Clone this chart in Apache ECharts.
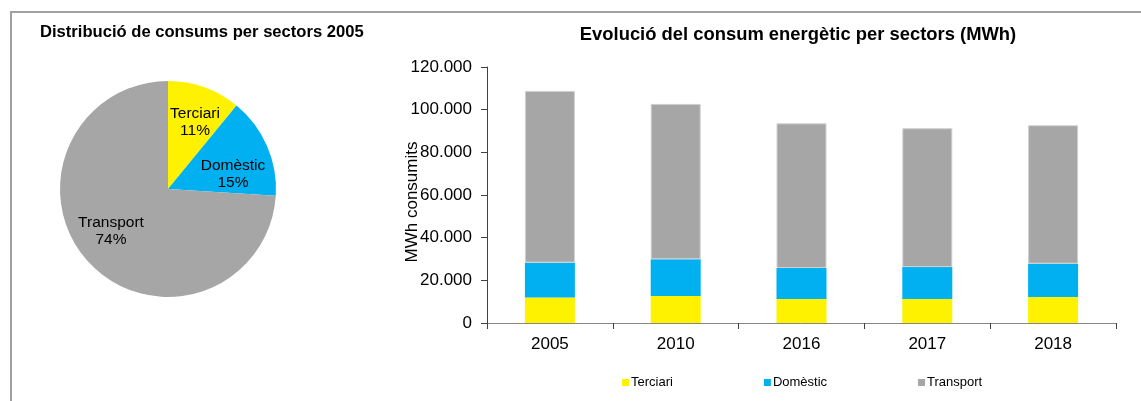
<!DOCTYPE html>
<html>
<head>
<meta charset="utf-8">
<script src="https://cdn.jsdelivr.net/npm/echarts@6/dist/echarts.min.js"></script>
<style>
  html, body { margin: 0; padding: 0; background: #fff; }
  #chart { width: 1141px; height: 401px; }
</style>
</head>
<body>
<div id="chart"></div>
<script>
const years = ['2005', '2010', '2016', '2017', '2018']
const sectors = ['Terciari', 'Domèstic', 'Transport']
const terciari = [11900, 12700, 11200, 11200, 12200]
const domestic = [16400, 17200, 14600, 15000, 15600]
const transport = [80500, 72800, 67800, 65100, 64900]
const yTicks = [0, 20000, 40000, 60000, 80000, 100000, 120000]

const colors = ['#fff200', '#00b0f0', '#a6a6a6']
const font = 'Liberation Sans, Arial, sans-serif'

// pie shows the 2005 split
const pieData = [
  { name: sectors[0], value: terciari[0] },
  { name: sectors[1], value: domestic[0] },
  { name: sectors[2], value: transport[0] }
]

// where the slice labels sit in the original
const pieLabelPos = [[195, 122], [233, 174], [111, 231]]

function fmtThousands(v) {
  return String(v).replace(/\B(?=(\d{3})+(?!\d))/g, '.')
}

const chart = echarts.init(document.getElementById('chart'))

chart.setOption({
  animation: false,
  textStyle: { fontFamily: font },
  graphic: [
    {
      type: 'polyline',
      shape: { points: [[11, 401], [11, 12], [1141, 12]] },
      style: { stroke: '#a0a0a0', lineWidth: 2, fill: null }
    }
  ],
  title: [
    {
      text: 'Distribució de consums per sectors 2005',
      left: 35,
      top: 19,
      textStyle: { fontSize: 16.6, fontWeight: 'bold', color: '#000', fontFamily: font }
    },
    {
      text: 'Evolució del consum energètic per sectors (MWh)',
      left: 793,
      textAlign: 'center',
      top: 21,
      textStyle: { fontSize: 18.4, fontWeight: 'bold', color: '#000', fontFamily: font }
    }
  ],
  legend: {
    data: sectors,
    left: 617,
    top: 371,
    itemWidth: 7,
    itemHeight: 7,
    itemGap: 91,
    icon: 'rect',
    itemStyle: { borderWidth: 0 },
    textStyle: { fontSize: 13, color: '#000', padding: [0, 0, 0, -3] },
    selectedMode: false
  },
  grid: {
    left: 487,
    right: 25,
    top: 67,
    bottom: 78
  },
  xAxis: {
    type: 'category',
    data: years,
    axisLine: { lineStyle: { color: '#868686', width: 1 } },
    axisTick: { show: true, length: 6, lineStyle: { color: '#404040' } },
    axisLabel: { fontSize: 17, color: '#000', margin: 13 }
  },
  yAxis: {
    type: 'value',
    min: yTicks[0],
    max: yTicks[yTicks.length - 1],
    interval: yTicks[1] - yTicks[0],
    name: 'MWh consumits',
    nameLocation: 'middle',
    nameGap: 66,
    nameMoveOverlap: false,
    nameTextStyle: { fontSize: 17, color: '#000', padding: [0, 14, 0, 0] },
    axisLine: { show: true, lineStyle: { color: '#404040' } },
    axisTick: { show: true, length: 6, lineStyle: { color: '#404040' } },
    axisLabel: { fontSize: 17, color: '#000', margin: 15, formatter: fmtThousands },
    splitLine: { show: false }
  },
  series: [
    {
      name: sectors[0],
      type: 'bar',
      stack: 'total',
      barWidth: 50,
      itemStyle: { color: colors[0] },
      data: terciari
    },
    {
      name: sectors[1],
      type: 'bar',
      stack: 'total',
      barWidth: 50,
      itemStyle: { color: colors[1] },
      data: domestic
    },
    {
      name: sectors[2],
      type: 'bar',
      stack: 'total',
      barWidth: 50,
      itemStyle: { color: colors[2], borderColor: '#d0d0d0', borderWidth: 1 },
      data: transport
    },
    {
      type: 'pie',
      center: [168, 189],
      radius: 108,
      startAngle: 90,
      clockwise: true,
      color: colors,
      legendHoverLink: false,
      avoidLabelOverlap: false,
      label: {
        show: true,
        position: 'inside',
        fontSize: 15.5,
        color: '#000',
        lineHeight: 17,
        align: 'center',
        verticalAlign: 'middle',
        formatter: p => p.name + '\n' + Math.round(p.percent) + '%'
      },
      labelLayout: p => ({
        x: pieLabelPos[p.dataIndex][0],
        y: pieLabelPos[p.dataIndex][1],
        align: 'center',
        verticalAlign: 'middle',
        hideOverlap: false
      }),
      labelLine: { show: false },
      data: pieData
    }
  ]
})
</script>
</body>
</html>
